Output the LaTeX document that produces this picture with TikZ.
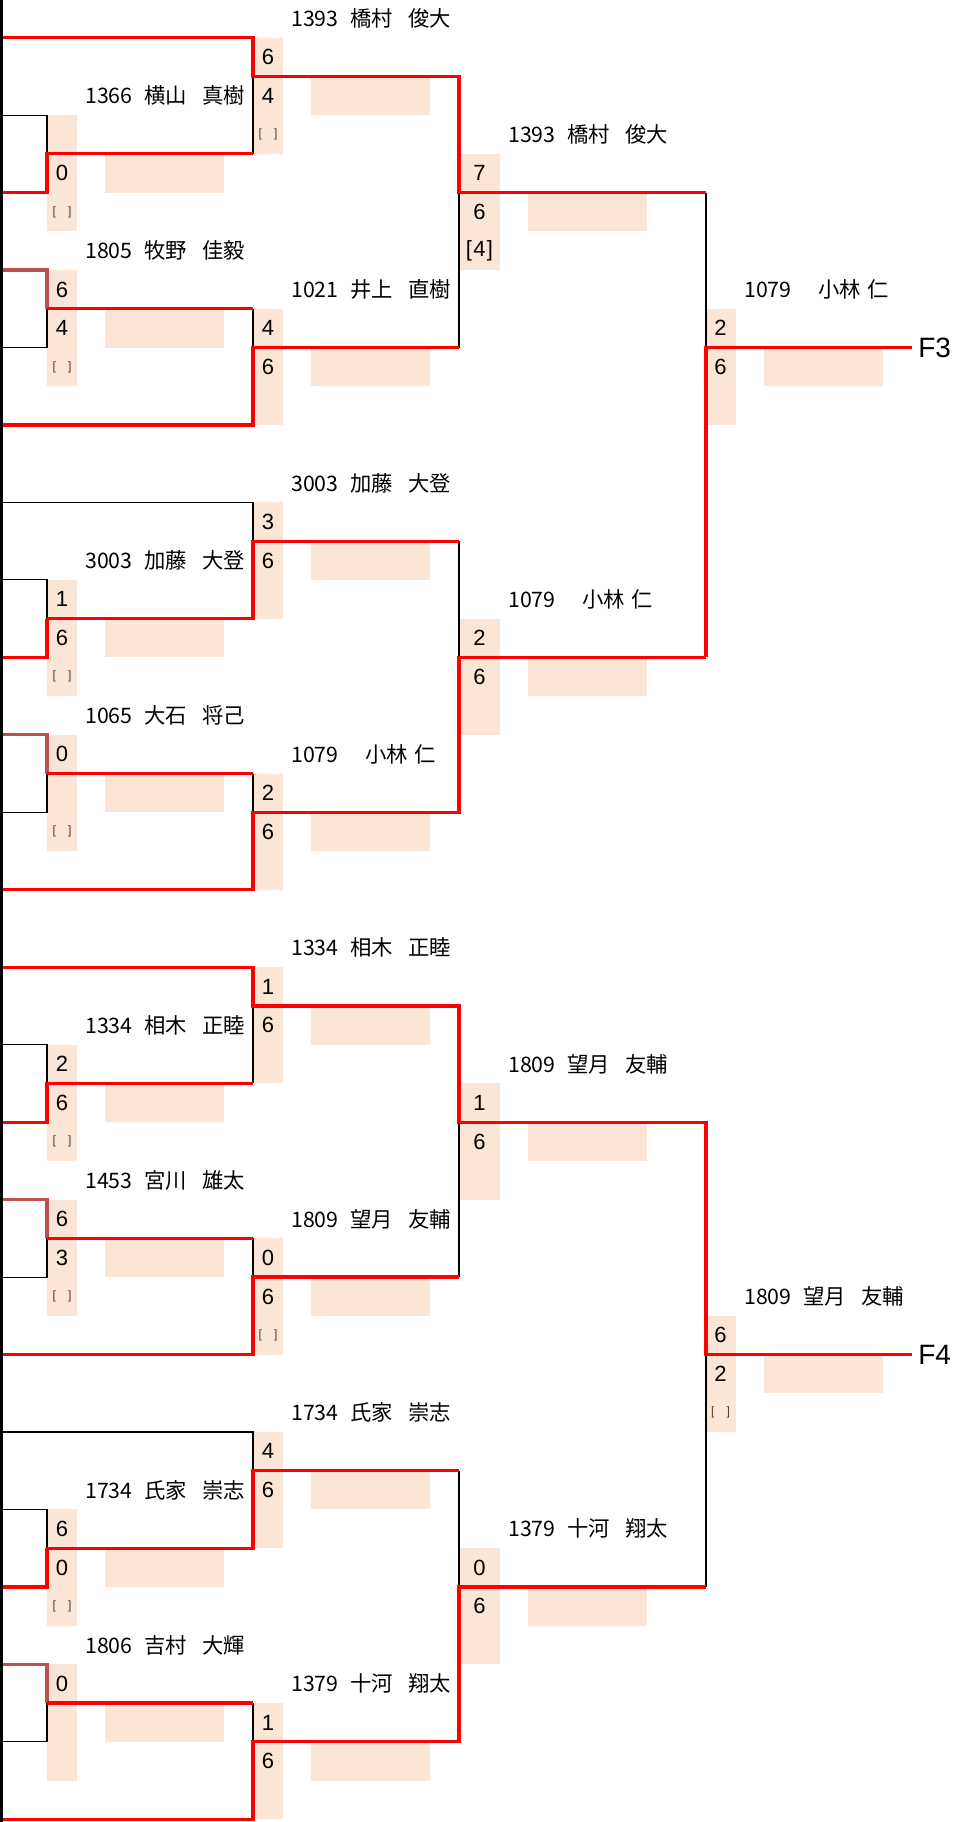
\documentclass[tikz,border=0pt]{standalone}
\usepackage{fontspec}
\setmainfont{Liberation Sans}
\newfontfamily\jpfont{Noto Sans CJK JP}
\usetikzlibrary{positioning}
\definecolor{peach}{HTML}{FBE5D6}
\definecolor{winred}{HTML}{FF0000}
\definecolor{oldred}{HTML}{C0504D}
\newcommand{\blanktb}{{\fontsize{9}{9}\selectfont\color{black!75}[\hspace{1em}]}}
\newcommand{\pname}[3]{\makebox[44.25pt][l]{#1}\makebox[43.5pt][l]{#2}#3}
\newcommand{\sname}[3]{\makebox[55.5pt][l]{#1}\makebox[36.75pt][l]{#2}#3}
\newcommand{\match}[7][]{%
  \node[scbox,#1] (#2) at (#3,#4+1.5) {};
  \node[score] (#2-1) at (#3,#4+0.5) {#5};
  \node[score] (#2-2) at (#3,#4+1.5) {#6};
  \node[score] (#2-3) at (#3,#4+2.5) {#7};}
\tikzset{
  scbox/.style={fill=peach, inner sep=0pt, minimum width=22.5pt, minimum height=87.14pt},
  widebox/.style={minimum width=30.75pt},
  namebox/.style={fill=peach, inner sep=0pt, minimum width=89.25pt, minimum height=29.05pt},
  score/.style={inner sep=0pt, font=\fontsize{16.5}{16.5}\selectfont},
  player/.style={anchor=west, inner sep=0pt, font=\jpfont\fontsize{16}{16}\selectfont},
  redline/.style={draw=winred, line width=2.4pt},
  dullline/.style={draw=oldred, line width=2.4pt},
  thinline/.style={draw=black, line width=0.8pt},
}

\begin{document}
\begin{tikzpicture}[x=0.75pt, y=-29.0475pt,
    final/.style={anchor=west, inner sep=0pt, font=\fontsize{21}{21}\selectfont}]
  \useasboundingbox (0,0.0266) rectangle (953,47.0706);
  \foreach \k in {4,8,16,20,28,32,40,44} \node[namebox] (pk1-\k) at (164.5,\k+0.5) {};
  \foreach \k in {2,9,14,21,26,33,38,45} \node[namebox] (pk2-\k) at (370.5,\k+0.5) {};
  \foreach \k in {5,17,29,41} \node[namebox] (pk3-\k) at (587.5,\k+0.5) {};
  \foreach \k in {9,35} \node[namebox] (pk4-\k) at (823.5,\k+0.5) {};
  \match{r1a}{62}{3}{}{0}{\blanktb}
  \match{r1b}{62}{7}{6}{4}{\blanktb}
  \match{r1c}{62}{15}{1}{6}{\blanktb}
  \match{r1d}{62}{19}{0}{}{\blanktb}
  \match{r1e}{62}{27}{2}{6}{\blanktb}
  \match{r1f}{62}{31}{6}{3}{\blanktb}
  \match{r1g}{62}{39}{6}{0}{\blanktb}
  \match{r1h}{62}{43}{0}{}{}
  \match{r2a}{268}{1}{6}{4}{\blanktb}
  \match{r2b}{268}{8}{4}{6}{}
  \match{r2c}{268}{13}{3}{6}{}
  \match{r2d}{268}{20}{2}{6}{}
  \match{r2e}{268}{25}{1}{6}{}
  \match{r2f}{268}{32}{0}{6}{\blanktb}
  \match{r2g}{268}{37}{4}{6}{}
  \match{r2h}{268}{44}{1}{6}{}
  \match[widebox]{r3a}{479.5}{4}{7}{6}{[\kern1pt4\kern1pt]}
  \match[widebox]{r3b}{479.5}{16}{2}{6}{}
  \match[widebox]{r3c}{479.5}{28}{1}{6}{}
  \match[widebox]{r3d}{479.5}{40}{0}{6}{}
  \match{sf1}{720.5}{8}{2}{6}{}
  \match{sf2}{720.5}{34}{6}{2}{\blanktb}

  \node[player] (nm1-2)  at (85,2.5)  {\pname{1366}{横山}{真樹}};
  \node[player] (nm1-6)  at (85,6.5)  {\pname{1805}{牧野}{佳毅}};
  \node[player] (nm1-14) at (85,14.5) {\pname{3003}{加藤}{大登}};
  \node[player] (nm1-18) at (85,18.5) {\pname{1065}{大石}{将己}};
  \node[player] (nm1-26) at (85,26.5) {\pname{1334}{相木}{正睦}};
  \node[player] (nm1-30) at (85,30.5) {\pname{1453}{宮川}{雄太}};
  \node[player] (nm1-38) at (85,38.5) {\pname{1734}{氏家}{崇志}};
  \node[player] (nm1-42) at (85,42.5) {\pname{1806}{吉村}{大輝}};
  \node[player] (nm2-0)  at (291,0.5)  {\pname{1393}{橋村}{俊大}};
  \node[player] (nm2-7)  at (291,7.5)  {\pname{1021}{井上}{直樹}};
  \node[player] (nm2-12) at (291,12.5) {\pname{3003}{加藤}{大登}};
  \node[player] (nm2-19) at (291,19.5) {\sname{1079}{小林}{仁}};
  \node[player] (nm2-24) at (291,24.5) {\pname{1334}{相木}{正睦}};
  \node[player] (nm2-31) at (291,31.5) {\pname{1809}{望月}{友輔}};
  \node[player] (nm2-36) at (291,36.5) {\pname{1734}{氏家}{崇志}};
  \node[player] (nm2-43) at (291,43.5) {\pname{1379}{十河}{翔太}};
  \node[player] (nm3-3)  at (508,3.5)  {\pname{1393}{橋村}{俊大}};
  \node[player] (nm3-15) at (508,15.5) {\sname{1079}{小林}{仁}};
  \node[player] (nm3-27) at (508,27.5) {\pname{1809}{望月}{友輔}};
  \node[player] (nm3-39) at (508,39.5) {\pname{1379}{十河}{翔太}};
  \node[player] (nm4-7)  at (744,7.5)  {\sname{1079}{小林}{仁}};
  \node[player] (nm4-33) at (744,33.5) {\pname{1809}{望月}{友輔}};
  \node[final] (f3) at (918,9)  {F3};
  \node[final] (f4) at (918,35) {F4};

  \draw[thinline] (0,3) -- (47,3) -- (47,4) (253,4) -- (253,2) (0,9) -- (47,9) -- (47,8) (253,8) -- (253,9);
  \draw[thinline] (459,5) -- (459,9) (706,5) -- (706,9);
  \draw[thinline] (0,13) -- (253,13) -- (253,14) (459,14) -- (459,17) (0,15) -- (47,15) -- (47,16);
  \draw[thinline] (0,21) -- (47,21) -- (47,20) (253,20) -- (253,21);
  \draw[thinline] (253,26) -- (253,28) (0,27) -- (47,27) -- (47,28) (0,33) -- (47,33) -- (47,32);
  \draw[thinline] (253,32) -- (253,33) (459,33) -- (459,29);
  \draw[thinline] (0,37) -- (253,37) -- (253,38) (459,38) -- (459,41) (0,39) -- (47,39) -- (47,40);
  \draw[thinline] (0,45) -- (47,45) -- (47,44) (253,44) -- (253,45) (706,35) -- (706,41);
  \draw[dullline] (0,7) -- (47,7) -- (47,8) (0,19) -- (47,19) -- (47,20);
  \draw[dullline] (0,31) -- (47,31) -- (47,32) (0,43) -- (47,43) -- (47,44);
  \draw[redline] (0,1) -- (253,1) -- (253,2) -- (459,2) -- (459,5) -- (706,5);
  \draw[redline] (0,5) -- (47,5) -- (47,4) -- (253,4);
  \draw[redline] (47,8) -- (253,8) (0,11) -- (253,11) -- (253,9) -- (459,9);
  \draw[redline] (706,17) -- (706,9) -- (912,9);
  \draw[redline] (47,16) -- (253,16) -- (253,14) -- (459,14) (0,17) -- (47,17) -- (47,16);
  \draw[redline] (47,20) -- (253,20) (0,23) -- (253,23) -- (253,21) -- (459,21) -- (459,17) -- (706,17);
  \draw[redline] (0,25) -- (253,25) -- (253,26) -- (459,26) -- (459,29) -- (706,29) -- (706,35) -- (912,35);
  \draw[redline] (0,29) -- (47,29) -- (47,28) -- (253,28);
  \draw[redline] (47,32) -- (253,32) (0,35) -- (253,35) -- (253,33) -- (459,33);
  \draw[redline] (47,40) -- (253,40) -- (253,38) -- (459,38) (0,41) -- (47,41) -- (47,40);
  \draw[redline] (47,44) -- (253,44) (0,47) -- (253,47) -- (253,45) -- (459,45) -- (459,41) -- (706,41);
  \fill (0,0) rectangle (3,47.1);
\end{tikzpicture}
\end{document}
